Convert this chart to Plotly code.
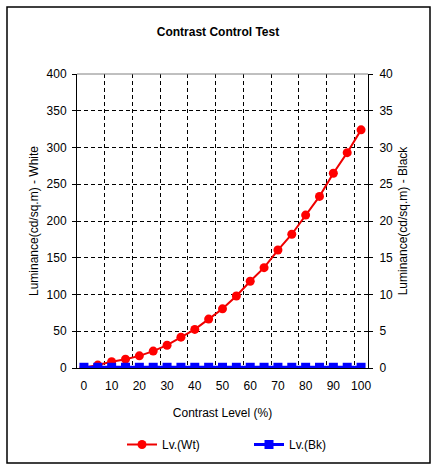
import plotly.graph_objects as go

contrast_levels = [0, 5, 10, 15, 20, 25, 30, 35, 40, 45, 50, 55, 60, 65, 70, 75, 80, 85, 90, 95, 100]
lv_white = [0.5, 4, 8.6, 12, 16.5, 23, 31, 42, 52.5, 66.5, 80.5, 98, 118, 136.5, 160.5, 182, 208, 233.5, 265, 293, 324]
lv_black = [0.1] * 21
x_tick_labels = [0, 10, 20, 30, 40, 50, 60, 70, 80, 90, 100]
left_ticks = [0, 50, 100, 150, 200, 250, 300, 350, 400]
right_ticks = [0, 5, 10, 15, 20, 25, 30, 35, 40]

step = contrast_levels[1] - contrast_levels[0]
x_range = [contrast_levels[0] - step / 2, contrast_levels[-1] + step / 2]
grid_positions = [c + step / 2 for c in contrast_levels[1:-1:2]]

FONT = "Liberation Sans, Arial, sans-serif"

fig = go.Figure()
fig.add_trace(go.Scatter(
    x=contrast_levels, y=lv_white, name="Lv.(Wt)", mode="lines+markers",
    line=dict(color="#EE0000", width=2),
    marker=dict(symbol="circle", size=9, color="#FF0000"),
    yaxis="y", xaxis="x",
))
fig.add_trace(go.Scatter(
    x=contrast_levels, y=lv_black, name="Lv.(Bk)", mode="lines+markers",
    line=dict(color="#0000FF", width=3),
    marker=dict(symbol="square", size=9, color="#0000FF"),
    yaxis="y2", xaxis="x",
))
# invisible helper trace for the gridline axis
fig.add_trace(go.Scatter(
    x=[contrast_levels[0]], y=[0], xaxis="x3", yaxis="y",
    mode="markers", marker=dict(opacity=0), showlegend=False, hoverinfo="skip",
))

fig.update_layout(
    width=436, height=470,
    margin=dict(l=77, r=68, t=74, b=102, autoexpand=False),
    paper_bgcolor="white", plot_bgcolor="white",
    font=dict(family=FONT, size=12, color="black"),
    title=dict(text="<b>Contrast Control Test</b>", x=0.5, xanchor="center",
               y=1 - 32 / 470, yanchor="middle", font=dict(size=12, family=FONT)),
    showlegend=True,
    legend=dict(orientation="h", x=(122 - 77) / 291, xanchor="left",
                y=(368 - 430) / 294, yanchor="top", entrywidth=82,
                font=dict(size=12, family=FONT), itemwidth=30, tracegroupgap=0,
                bgcolor="rgba(0,0,0,0)"),
    xaxis=dict(range=x_range, tickmode="array", tickvals=x_tick_labels,
               ticktext=[str(v) for v in x_tick_labels], showgrid=False, zeroline=False,
               showline=True, linecolor="black", linewidth=1, ticks="",
               ticklabelstandoff=7, automargin=False,
               title=dict(text="Contrast Level (%)", standoff=16, font=dict(size=12))),
    xaxis3=dict(range=x_range, overlaying="x", tickmode="array", tickvals=grid_positions,
                showticklabels=False, showgrid=True, gridcolor="black", gridwidth=1,
                griddash="4px,3px", zeroline=False, showline=False, ticks="",
                automargin=False),
    yaxis=dict(range=[0, 400], tickmode="array", tickvals=left_ticks,
               showgrid=True, gridcolor="black", gridwidth=1, griddash="4px,3px",
               zeroline=False, showline=True, linecolor="black", linewidth=1,
               ticks="outside", ticklen=4, tickcolor="black", ticklabelstandoff=3,
               automargin=False,
               title=dict(text="Luminance(cd/sq.m) - White", standoff=5, font=dict(size=12))),
    yaxis2=dict(range=[0, 40], overlaying="y", side="right", tickmode="array",
                tickvals=right_ticks, showgrid=False, zeroline=False,
                showline=True, linecolor="black", linewidth=1,
                ticks="outside", ticklen=4, tickcolor="black", ticklabelstandoff=4,
                automargin=False,
                title=dict(text="Luminance(cd/sq.m) - Black", standoff=6, font=dict(size=12))),
    shapes=[
        dict(type="line", xref="paper", yref="paper", x0=0, x1=1, y0=1, y1=1,
             line=dict(color="#808080", width=1)),
        dict(type="rect", xref="paper", yref="paper",
             x0=(7 - 77) / 291, x1=(430 - 77) / 291,
             y0=(368 - 463) / 294, y1=(368 - 7) / 294,
             line=dict(color="black", width=1.5), fillcolor="rgba(0,0,0,0)"),
    ],
)

fig.write_html("out.html", config={"displayModeBar": False},
               post_script="document.body.style.margin='0px';")
